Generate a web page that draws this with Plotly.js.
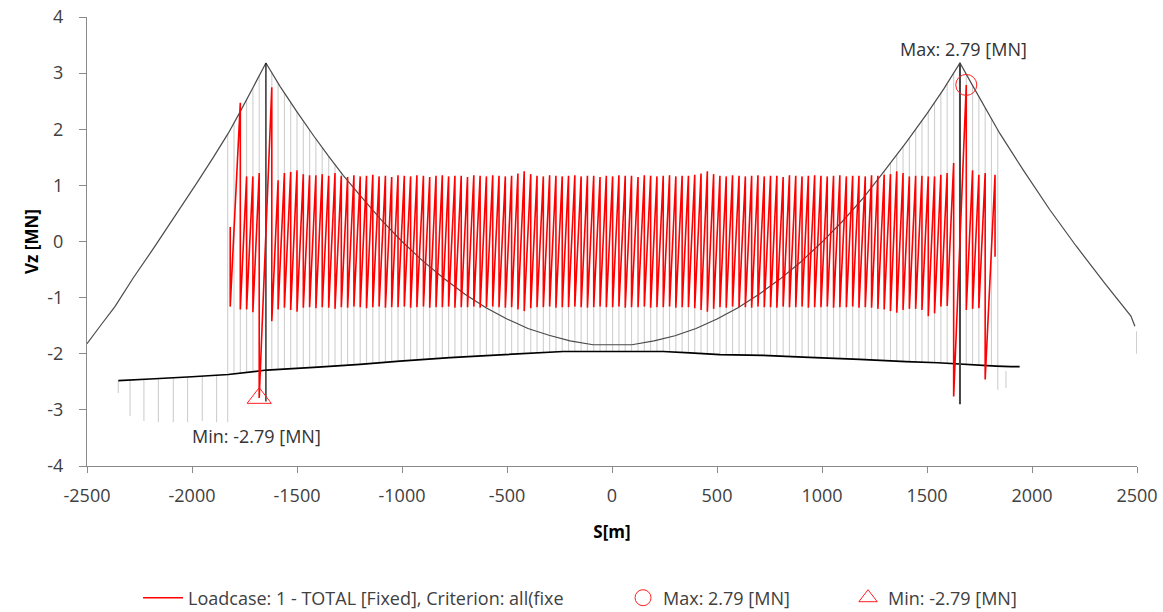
<!DOCTYPE html>
<html>
<head>
<meta charset="utf-8">
<script src="https://cdn.plot.ly/plotly-3.0.1.min.js"></script>
<style>
html,body{margin:0;padding:0;background:#ffffff;}
#chart{width:1163px;height:612px;}
</style>
</head>
<body>
<div id="chart"></div>
<script>
// ---------- tick labels ----------
const xTicks = [-2500, -2000, -1500, -1000, -500, 0, 500, 1000, 1500, 2000, 2500];
const xTickLabels = ['-2500', '-2000', '-1500', '-1000', '-500', '0', '500', '1000', '1500', '2000', '2500'];
const yTicks = [-4, -3, -2, -1, 0, 1, 2, 3, 4];
const yTickLabels = ['-4', '-3', '-2', '-1', '0', '1', '2', '3', '4'];

// ---------- structure: main cable / backstays ----------
const cableX = [-2500, -2430, -2367, -2280, -2181, -2080, -1976, -1900, -1827, -1771, -1710, -1648,
  -1580, -1500, -1420, -1350, -1280, -1200, -1100, -1000, -900, -800, -700, -600, -500, -400, -300, -200, -90,
  95, 200, 300, 400, 500, 600, 700, 800, 900, 1000, 1100, 1200, 1300, 1400, 1500, 1580, 1657,
  1720, 1846, 1957, 2084, 2210, 2346, 2471, 2490];
const cableY = [-1.82, -1.47, -1.16, -0.65, -0.11, 0.46, 1.05, 1.49, 1.93, 2.31, 2.74, 3.18,
  2.76, 2.31, 1.88, 1.52, 1.18, 0.82, 0.39, 0.00, -0.35, -0.66, -0.94, -1.18, -1.38, -1.55, -1.67, -1.77, -1.84,
  -1.84, -1.77, -1.68, -1.55, -1.38, -1.18, -0.94, -0.67, -0.36, -0.01, 0.37, 0.79, 1.27, 1.76, 2.28, 2.72, 3.18,
  2.76, 1.93, 1.28, 0.57, -0.08, -0.74, -1.33, -1.51];

// ---------- structure: deck ----------
const deckX = [-2351, -2200, -2000, -1827, -1644, -1400, -1200, -1010, -771, -533, -232, 0, 244, 371, 514, 719, 910, 1179, 1400, 1552, 1830, 1900, 1941];
const deckY = [-2.48, -2.45, -2.41, -2.37, -2.29, -2.24, -2.19, -2.13, -2.07, -2.02, -1.96, -1.96, -1.96, -1.985, -2.015, -2.03, -2.06, -2.10, -2.14, -2.16, -2.22, -2.23, -2.23];

// ---------- structure: pylons ----------
const pylonX = [-1648, 1657];
const pylonTop = [3.18, 3.18];
const pylonBottom = [-2.85, -2.90];

// ---------- hangers without result teeth ----------
const endHangerX = [-1830, -1800, 1807, 1837];
const endHangerBottom = [-3.22, -2.36, -2.21, -2.64];

// ---------- short lines below the deck ----------
const sideX = [-2351, -2295, -2229, -2160, -2089, -2021, -1951, -1883, 1876, 2498];
const sideTop = [-2.48, -2.47, -2.46, -2.45, -2.43, -2.42, -2.40, -2.39, -2.31, -1.60];
const sideBottom = [-2.70, -3.11, -3.20, -3.22, -3.22, -3.22, -3.20, -3.22, -2.61, -2.00];

// ---------- result Vz: value just before (hi) and after (lo) each hanger ----------
const toothX = [-1818, -1770, -1740, -1710, -1680, -1620, -1590, -1560, -1530, -1500, -1470, -1440, -1410, -1380, -1349, -1319,
  -1289, -1259, -1229, -1199, -1169, -1139, -1109, -1079, -1049, -1019, -989, -959, -929, -898, -868, -838, -808, -778, -748, -718,
  -688, -658, -628, -598, -568, -538, -508, -478, -448, -418, -387, -357, -327, -297, -267, -237, -207, -177, -147, -117, -87, -57, -27,
  3, 33, 63, 93, 124, 154, 184, 214, 244, 274, 304, 334, 364, 394, 424, 454, 484, 514, 544, 574, 605, 635, 665, 695, 725, 755,
  785, 815, 845, 875, 905, 935, 965, 995, 1025, 1055, 1085, 1116, 1146, 1176, 1206, 1236, 1266, 1296, 1326, 1356, 1386, 1416,
  1446, 1476, 1506, 1536, 1566, 1596, 1627, 1687, 1717, 1747, 1777, 1824];
const toothHi = [0.26, 2.47, 1.16, 1.16, 1.22, 2.75, 1.09, 1.22, 1.24, 1.27, 1.20, 1.18, 1.18, 1.20, 1.17, 1.22,
  1.17, 1.15, 1.18, 1.16, 1.17, 1.19, 1.16, 1.17, 1.15, 1.18, 1.17, 1.16, 1.18, 1.17, 1.15, 1.17, 1.18, 1.16, 1.17, 1.17,
  1.15, 1.18, 1.17, 1.16, 1.18, 1.17, 1.16, 1.17, 1.21, 1.25, 1.20, 1.17, 1.16, 1.18, 1.17, 1.16, 1.17, 1.18, 1.16, 1.17, 1.17, 1.15, 1.17,
  1.16, 1.18, 1.17, 1.17, 1.15, 1.18, 1.17, 1.16, 1.17, 1.18, 1.16, 1.17, 1.17, 1.19, 1.21, 1.25, 1.20, 1.17, 1.16, 1.18, 1.17, 1.16, 1.17, 1.18, 1.16, 1.17,
  1.17, 1.15, 1.18, 1.17, 1.16, 1.17, 1.18, 1.17, 1.16, 1.17, 1.18, 1.16, 1.17, 1.17, 1.16, 1.18, 1.17, 1.19, 1.20, 1.25, 1.22, 1.16,
  1.17, 1.17, 1.16, 1.16, 1.19, 1.22, 1.40, 2.79, 1.27, 1.19, 1.22, 1.19];
const toothLo = [-1.16, -1.21, -1.21, -1.26, -2.79, -1.42, -1.21, -1.18, -1.22, -1.25, -1.18, -1.17, -1.19, -1.17, -1.18, -1.20,
  -1.17, -1.18, -1.16, -1.17, -1.19, -1.17, -1.16, -1.18, -1.17, -1.17, -1.16, -1.18, -1.17, -1.16, -1.18, -1.17, -1.17, -1.16, -1.18, -1.17,
  -1.17, -1.16, -1.18, -1.17, -1.16, -1.17, -1.18, -1.17, -1.21, -1.24, -1.19, -1.17, -1.17, -1.16, -1.18, -1.17, -1.17, -1.16, -1.17, -1.18, -1.17, -1.16, -1.17,
  -1.17, -1.16, -1.18, -1.17, -1.17, -1.16, -1.18, -1.17, -1.17, -1.16, -1.18, -1.17, -1.17, -1.19, -1.22, -1.25, -1.20, -1.17, -1.18, -1.16, -1.17, -1.17, -1.18, -1.16, -1.17, -1.17,
  -1.18, -1.16, -1.17, -1.17, -1.16, -1.18, -1.17, -1.17, -1.16, -1.18, -1.17, -1.17, -1.16, -1.18, -1.17, -1.18, -1.20, -1.21, -1.24, -1.27, -1.22, -1.20,
  -1.20, -1.22, -1.33, -1.28, -1.16, -1.15, -2.76, -1.22, -1.20, -1.19, -2.46, -0.27];

// ---------- extremes ----------
const maxX = [1687], maxY = [2.79];
const minX = [-1680], minY = [-2.79];

const seriesName = 'Loadcase: 1 - TOTAL [Fixed], Criterion: all(fixe';
const maxLabel = 'Max: 2.79 [MN]';
const minLabel = 'Min: -2.79 [MN]';

// ---------- helpers ----------
function interp(xs, ys, x) {
  if (x <= xs[0]) return ys[0];
  for (let i = 1; i < xs.length; i++) {
    if (x <= xs[i]) {
      const t = (x - xs[i - 1]) / (xs[i] - xs[i - 1]);
      return ys[i - 1] + t * (ys[i] - ys[i - 1]);
    }
  }
  return ys[ys.length - 1];
}

// red result polyline
const redX = [], redY = [];
for (let i = 0; i < toothX.length; i++) {
  redX.push(toothX[i], toothX[i]);
  redY.push(toothHi[i], toothLo[i]);
}

// light-gray hanger segments
const gX = [], gY = [];
function seg(x, y0, y1) { gX.push(x, x, null); gY.push(y0, y1, null); }
for (let i = 1; i < toothX.length - 1; i++) {
  const x = toothX[i];
  const c = interp(cableX, cableY, x);
  const d = interp(deckX, deckY, x);
  if (c > toothHi[i]) seg(x, c, toothHi[i]);
  if (toothLo[i] > d) seg(x, toothLo[i], d);
}
for (let i = 0; i < endHangerX.length; i++) {
  seg(endHangerX[i], interp(cableX, cableY, endHangerX[i]), endHangerBottom[i]);
}
for (let i = 0; i < sideX.length; i++) seg(sideX[i], sideTop[i], sideBottom[i]);

const traces = [
  {x: gX, y: gY, mode: 'lines', line: {color: '#cfcfcf', width: 1.1, simplify: false}, showlegend: false, hoverinfo: 'skip'},
  {x: cableX, y: cableY, mode: 'lines', line: {color: '#4a4a4a', width: 1.2, simplify: false}, showlegend: false, hoverinfo: 'skip'},
  {x: deckX, y: deckY, mode: 'lines', line: {color: '#000000', width: 1.7, simplify: false}, showlegend: false, hoverinfo: 'skip'},
  {x: [pylonX[0], pylonX[0]], y: [pylonTop[0], pylonBottom[0]], mode: 'lines', line: {color: '#111111', width: 1.3}, showlegend: false, hoverinfo: 'skip'},
  {x: [pylonX[1], pylonX[1]], y: [pylonTop[1], pylonBottom[1]], mode: 'lines', line: {color: '#444444', width: 2}, showlegend: false, hoverinfo: 'skip'},
  {x: redX, y: redY, mode: 'lines', name: seriesName, line: {color: '#ff0000', width: 1.6, simplify: false}, legend: 'legend'},
  {x: maxX, y: maxY, mode: 'markers', name: maxLabel, marker: {symbol: 'circle-open', size: 21, color: '#ff2020', line: {width: 1}}, legend: 'legend2'},
  {x: minX, y: minY, mode: 'markers', name: minLabel, marker: {symbol: 'triangle-up-open', size: 21, color: '#ff2020', line: {width: 1}}, legend: 'legend3'}
];

const fontFam = '"Open Sans", "Noto Sans", sans-serif';
const legendBase = {orientation: 'h', xanchor: 'left', yanchor: 'middle', y: -0.294,
  font: {family: fontFam, size: 18, color: '#404040'}, bgcolor: 'rgba(0,0,0,0)', borderwidth: 0};

const layout = {
  width: 1163, height: 612,
  margin: {l: 87, r: 26, t: 17, b: 146, autoexpand: false},
  paper_bgcolor: '#ffffff', plot_bgcolor: '#ffffff',
  font: {family: fontFam, size: 18, color: '#404040'},
  xaxis: {
    range: [-2500, 2500], tickmode: 'array', tickvals: xTicks, ticktext: xTickLabels,
    showgrid: false, zeroline: false, showline: true, linecolor: '#8a8a8a', linewidth: 1,
    ticks: 'outside', ticklen: 6, tickcolor: '#8a8a8a', ticklabelstandoff: 7,
    tickfont: {family: fontFam, size: 18, color: '#404040'},
    title: {text: 'S[m]', font: {family: fontFam, size: 17, color: '#000000', weight: 700}, standoff: 20},
    automargin: true, fixedrange: true
  },
  yaxis: {
    range: [-4, 4], tickmode: 'array', tickvals: yTicks, ticktext: yTickLabels,
    showgrid: false, zeroline: false, showline: true, linecolor: '#8a8a8a', linewidth: 1,
    ticks: 'outside', ticklen: 7, tickcolor: '#8a8a8a', ticklabelstandoff: 12,
    tickfont: {family: fontFam, size: 18, color: '#404040'},
    title: {text: 'Vz [MN]', font: {family: fontFam, size: 17, color: '#000000', weight: 700}, standoff: 4},
    automargin: true, fixedrange: true
  },
  showlegend: true,
  legend: Object.assign({}, legendBase, {x: 0.0486, itemwidth: 40}),
  legend2: Object.assign({}, legendBase, {x: 0.5105, itemwidth: 30}),
  legend3: Object.assign({}, legendBase, {x: 0.7248, itemwidth: 30}),
  annotations: [
    {x: maxX[0], y: maxY[0], xref: 'x', yref: 'y', text: maxLabel, showarrow: false,
     xanchor: 'center', yanchor: 'bottom', xshift: -3, yshift: 22,
     font: {family: fontFam, size: 18, color: '#333333'}},
    {x: minX[0], y: minY[0], xref: 'x', yref: 'y', text: minLabel, showarrow: false,
     xanchor: 'center', yanchor: 'top', xshift: -3, yshift: -24,
     font: {family: fontFam, size: 18, color: '#333333'}}
  ]
};

Plotly.newPlot('chart', traces, layout, {displayModeBar: false, staticPlot: true});
</script>
</body>
</html>
